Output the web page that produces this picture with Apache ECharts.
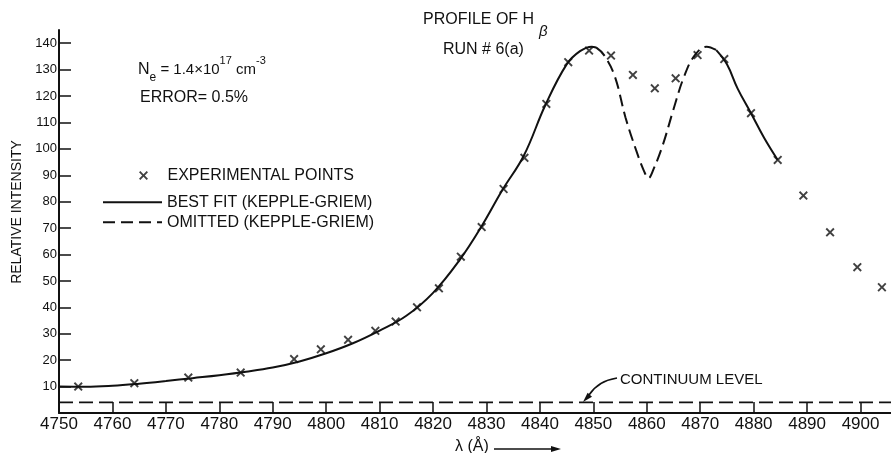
<!DOCTYPE html>
<html><head><meta charset="utf-8">
<script src="https://cdn.jsdelivr.net/npm/echarts@6/dist/echarts.min.js"></script>
<style>html,body{margin:0;padding:0;background:#fff}#c{width:891px;height:453px}</style>
</head><body><div id="c"></div>
<script>
// ---- data ----
const xTicks = [4750,4760,4770,4780,4790,4800,4810,4820,4830,4840,4850,4860,4870,4880,4890,4900];
const yTicks = [10,20,30,40,50,60,70,80,90,100,110,120,130,140];

const expX = [4753.6,4764.1,4774.2,4784.0,4794.0,4799.0,4804.1,4809.2,4813.0,4817.0,4821.1,4825.2,4829.1,4833.2,4837.1,4841.2,4845.3,4849.2,4853.3,4857.4,4861.5,4865.4,4869.5,4874.5,4879.5,4884.5,4889.3,4894.3,4899.4,4904.0];
const expY = [10.0,11.3,13.4,15.3,20.4,24.1,27.7,31.1,34.6,40.0,47.2,59.2,70.4,84.8,96.6,117.0,132.8,137.2,135.3,128.0,122.9,126.7,135.5,134.0,113.5,95.8,82.3,68.4,55.2,47.6];

const fitLeftX = [4750,4755,4760,4765,4770,4775,4780,4785,4790,4795,4800,4805,4810,4815,4820,4825,4829,4833,4837,4841,4845,4847.5,4849.7,4850.5];
const fitLeftY = [10.0,9.9,10.3,11.1,12.1,13.2,14.3,15.6,17.2,19.5,22.6,26.4,31.2,36.8,45.5,58.0,70.4,84.5,97.5,116.5,132.0,137.0,138.7,138.4];

const omitX = [4850.5,4852,4854,4856,4858,4859.5,4860.3,4861.3,4863,4865,4867,4869,4871.2,4873];
const omitY = [138.4,135.5,127.5,112.0,99.5,91.5,88.9,92.5,101.5,115.0,127.5,135.5,138.7,137.4];

const fitRightX = [4873,4875,4877,4879.5,4882,4884.5];
const fitRightY = [137.4,132.0,122.8,113.5,104.0,95.8];

const continuumLevel = 4.0;
const xMin = 4750, xMax = 4905.7, yMin = 0, yMax = 145;

// ---- helpers ----
const zip = (a, b) => a.map((v, i) => [v, b[i]]);
const FONT = 'Liberation Sans';
const INK = '#111';
const crossPath = 'path://M0,1.5L1.5,0L5,3.5L8.5,0L10,1.5L6.5,5L10,8.5L8.5,10L5,6.5L1.5,10L0,8.5L3.5,5Z';

const chart = echarts.init(document.getElementById('c'), null, {renderer: 'canvas'});
chart.setOption({
  animation: false,
  backgroundColor: '#fff',
  grid: {left: 59, right: 0, top: 30, bottom: 40, containLabel: false},
  xAxis: {
    type: 'value', min: xMin, max: xMax, interval: 10,
    axisLine: {lineStyle: {color: INK, width: 2}},
    axisTick: {inside: true, length: 11, lineStyle: {color: INK, width: 1.5}, customValues: xTicks},
    axisLabel: {color: INK, fontSize: 17, fontFamily: FONT, margin: 3, customValues: xTicks,
      formatter: v => xTicks.includes(v) ? String(v) : ''},
    splitLine: {show: false}
  },
  yAxis: {
    type: 'value', min: yMin, max: yMax, interval: 10,
    axisLine: {lineStyle: {color: INK, width: 2}},
    axisTick: {inside: true, length: 12, lineStyle: {color: INK, width: 1.5}, customValues: yTicks},
    axisLabel: {color: INK, fontSize: 13, fontFamily: FONT, margin: 2, customValues: yTicks,
      formatter: v => yTicks.includes(v) ? String(v) : ''},
    splitLine: {show: false}
  },
  legend: [
    {data: ['EXPERIMENTAL POINTS'], left: 134, top: 162.5, itemWidth: 38, itemHeight: 9,
     icon: crossPath, selectedMode: false,
     textStyle: {color: INK, fontSize: 16, fontFamily: FONT}},
    {data: ['BEST FIT (KEPPLE-GRIEM)', 'OMITTED (KEPPLE-GRIEM)'], orient: 'vertical',
     left: 97, top: 189.2, itemWidth: 59, itemHeight: 14, itemGap: 4, selectedMode: false,
     itemStyle: {opacity: 0},
     textStyle: {color: INK, fontSize: 16, fontFamily: FONT}}
  ],
  series: [
    {name: 'CONTINUUM LEVEL', type: 'line', symbol: 'none', silent: true,
     data: [[xMin, continuumLevel], [xMax, continuumLevel]],
     lineStyle: {color: INK, width: 1.8, type: [14, 6]}},
    {name: 'BEST FIT (KEPPLE-GRIEM)', type: 'line', symbol: 'none', smooth: 0.4,
     data: zip(fitLeftX, fitLeftY), lineStyle: {color: INK, width: 2}, itemStyle: {color: INK}},
    {name: 'OMITTED (KEPPLE-GRIEM)', type: 'line', symbol: 'none', smooth: 0.4,
     data: zip(omitX, omitY), lineStyle: {color: INK, width: 2, type: [12, 6]}, itemStyle: {color: INK}},
    {name: 'BEST FIT (KEPPLE-GRIEM)', type: 'line', symbol: 'none', smooth: 0.4,
     data: zip(fitRightX, fitRightY), lineStyle: {color: INK, width: 2}, itemStyle: {color: INK}},
    {name: 'EXPERIMENTAL POINTS', type: 'scatter', symbol: crossPath, symbolSize: 9, z: 5,
     data: zip(expX, expY), itemStyle: {color: INK}}
  ],
  graphic: [
    {type: 'text', x: 17, y: 212, rotation: Math.PI / 2,
     style: {text: 'RELATIVE INTENSITY', fill: INK, font: '14px ' + FONT, align: 'center', verticalAlign: 'middle'}},
    {type: 'text', x: 423, y: 20,
     style: {text: 'PROFILE OF H', fill: INK, font: '16px ' + FONT, align: 'left', verticalAlign: 'middle'}},
    {type: 'text', x: 539, y: 31.5,
     style: {text: 'β', fill: INK, font: 'italic 15px ' + FONT, align: 'left', verticalAlign: 'middle'}},
    {type: 'text', x: 443, y: 50,
     style: {text: 'RUN # 6(a)', fill: INK, font: '16px ' + FONT, align: 'left', verticalAlign: 'middle'}},
    {type: 'text', x: 138, y: 69.5,
     style: {text: '{n|N}{sub|e}{t| = 1.4×10}{sup|17}{t| cm}{sup|-3}', fill: INK, align: 'left', verticalAlign: 'middle',
       rich: {
         n: {fontSize: 16, fontFamily: FONT, lineHeight: 28, fill: INK},
         t: {fontSize: 15, fontFamily: FONT, lineHeight: 28, fill: INK},
         sub: {fontSize: 12, fontFamily: FONT, lineHeight: 10, verticalAlign: 'bottom', fill: INK},
         sup: {fontSize: 11, fontFamily: FONT, lineHeight: 11, verticalAlign: 'top', fill: INK}
       }}},
    {type: 'text', x: 140, y: 98,
     style: {text: 'ERROR= 0.5%', fill: INK, font: '16px ' + FONT, align: 'left', verticalAlign: 'middle'}},
    {type: 'text', x: 620, y: 380,
     style: {text: 'CONTINUUM LEVEL', fill: INK, font: '15px ' + FONT, align: 'left', verticalAlign: 'middle'}},
    {type: 'bezierCurve', shape: {x1: 617, y1: 378, cpx1: 598, cpy1: 381, x2: 589, y2: 395},
     style: {stroke: INK, lineWidth: 1.6, fill: null}},
    {type: 'polygon', shape: {points: [[583, 402], [592, 396.7], [587.6, 392.7]]}, style: {fill: INK}},
    {type: 'text', x: 455, y: 447,
     style: {text: 'λ (Å)', fill: INK, font: '16px ' + FONT, align: 'left', verticalAlign: 'middle'}},
    {type: 'line', shape: {x1: 494, y1: 449, x2: 552, y2: 449}, style: {stroke: INK, lineWidth: 1.5}},
    {type: 'polygon', shape: {points: [[561, 449], [551, 446], [551, 452]]}, style: {fill: INK}}
  ]
});
</script>
</body></html>
